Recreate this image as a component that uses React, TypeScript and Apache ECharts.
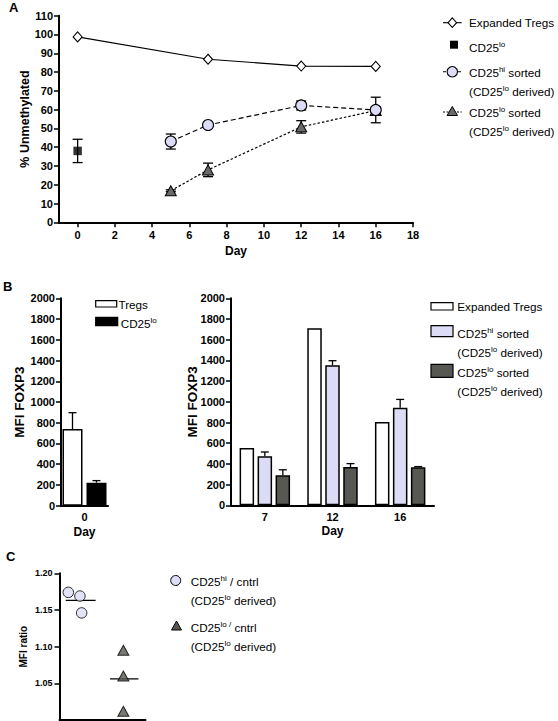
import React, { useEffect, useRef } from 'react';
import * as echarts from 'echarts';

// ---------- Panel A: % unmethylated over days ----------
const aTickDays = [0, 2, 4, 6, 8, 10, 12, 14, 16, 18];
const tregDays = [0, 7, 12, 16];
const tregPct = [98.7, 86.8, 83.2, 83.0];
const cd25loDays = [0];
const cd25loPct = [38];
const cd25loErr = [6.2];
const hiDays = [5, 7, 12, 16];
const hiPct = [43, 51.8, 62.2, 59.8];
const hiErr = [4, 1, 2.4, 6.8];
const loDays = [5, 7, 12, 16];
const loPct = [16.8, 27.9, 50.8, 59.5];
const loErr = [0.5, 3.6, 3.3, 2];

// ---------- Panel B: MFI FOXP3 ----------
const bLeftDays = ['0'];
const bTregs = [740];
const bTregsErr = [157];
const bCd25lo = [222];
const bCd25loErr = [20];
const bRightDays = ['7', '12', '16'];
const bExpanded = [553, 1710, 805];
const bHiSorted = [475, 1352, 943];
const bHiErr = [40, 45, 80];
const bLoSorted = [290, 370, 368];
const bLoErr = [53, 33, 6];

// ---------- Panel C: MFI ratio ----------
const cTickRatios = [1.05, 1.1, 1.15, 1.2];
const cHiX = [0.41, 0.95, 1.03];
const cHiRatio = [1.174, 1.169, 1.146];
const cHiMean = 1.163;
const cHiMeanSpan = [0.29, 1.68];
const cLoX = [2.97, 2.97, 2.97];
const cLoRatio = [1.095, 1.06, 1.012];
const cLoMean = 1.056;
const cLoMeanSpan = [2.35, 3.67];

const FONT = '"Liberation Sans", Arial, Helvetica, sans-serif';
const LAV = '#dcdcf6';
const DARK = '#575851';
const TRI_A = '#6a6a6a';

const zip = (xs: any[], ys: number[]) => xs.map((x, i) => [x, ys[i]]);
const zip3 = (xs: any[], ys: number[], es: number[]) => xs.map((x, i) => [x, ys[i], es[i]]);

const axisLine = { show: true, onZero: false, lineStyle: { color: '#000', width: 2 } };
const tick = (len: number) => ({ show: true, length: len, lineStyle: { color: '#000', width: 1.5 } });
const lbl = (size: number, margin: number) => ({
  color: '#000', fontFamily: FONT, fontWeight: 'bold', fontSize: size, margin,
});
const plain = (v: number) => String(v);
const nameStyle = (size: number) => ({ color: '#000', fontFamily: FONT, fontWeight: 'bold', fontSize: size });

function errorBars(capHalf: number, offsetPx: number, both: boolean) {
  return (_params: any, api: any) => {
    const x = api.value(0);
    const y = api.value(1);
    const e = api.value(2);
    const top = api.coord([x, y + e]);
    const base = both ? api.coord([x, y - e]) : api.coord([x, y]);
    const cx = top[0] + offsetPx;
    const st = { stroke: '#000', lineWidth: 1.3 };
    const children: any[] = [
      { type: 'line', shape: { x1: cx, y1: base[1], x2: cx, y2: top[1] }, style: st },
      { type: 'line', shape: { x1: cx - capHalf, y1: top[1], x2: cx + capHalf, y2: top[1] }, style: st },
    ];
    if (both) {
      children.push({ type: 'line', shape: { x1: cx - capHalf, y1: base[1], x2: cx + capHalf, y2: base[1] }, style: st });
    }
    return { type: 'group', children };
  };
}

const RICH = {
  sup: { fontSize: 8, fontFamily: FONT, verticalAlign: 'top', fill: '#000' },
};

const txt = (x: number, y: number, text: string, size = 11.7, weight = 'normal') => ({
  type: 'text',
  x,
  y,
  style: {
    text,
    fill: '#000',
    fontFamily: FONT,
    fontSize: size,
    fontWeight: weight,
    lineHeight: 14,
    verticalAlign: 'middle',
    align: 'left',
    rich: RICH,
  },
});

const box = (x: number, y: number, w: number, h: number, fill: string) => ({
  type: 'rect',
  shape: { x, y, width: w, height: h },
  style: { fill, stroke: '#000', lineWidth: 1.2 },
});

const hline = (x1: number, x2: number, y: number, dash?: number[]) => ({
  type: 'line',
  shape: { x1, y1: y, x2, y2: y },
  style: { stroke: '#000', lineWidth: 1.1, lineDash: dash },
});

function buildOption(): any {
  const graphic: any[] = [
    // panel letters
    txt(9, 7.5, 'A', 13, 'bold'),
    txt(3, 286.5, 'B', 13, 'bold'),
    txt(6, 556.5, 'C', 13, 'bold'),

    // Panel A legend
    hline(443, 461.7, 22.7),
    {
      type: 'polygon',
      shape: { points: [[452.3, 17.9], [456.6, 22.7], [452.3, 27.5], [448, 22.7]] },
      style: { fill: '#fff', stroke: '#000', lineWidth: 1.1 },
    },
    txt(469, 22.7, 'Expanded Tregs'),
    { type: 'rect', shape: { x: 450, y: 40.7, width: 8, height: 8 }, style: { fill: '#000' } },
    txt(469, 47.5, 'CD25{sup|lo}'),
    hline(443, 461.7, 71.7, [3, 2]),
    { type: 'circle', shape: { cx: 452.3, cy: 71.7, r: 5.2 }, style: { fill: LAV, stroke: '#000', lineWidth: 1.1 } },
    txt(469, 72, 'CD25{sup|hi} sorted'),
    txt(469, 91, '(CD25{sup|lo} derived)'),
    hline(443, 461.7, 112, [2, 1.5]),
    {
      type: 'polygon',
      shape: { points: [[452.3, 106.5], [457.5, 115.5], [447.1, 115.5]] },
      style: { fill: TRI_A, stroke: '#000', lineWidth: 1 },
    },
    txt(469, 112.5, 'CD25{sup|lo} sorted'),
    txt(469, 131, '(CD25{sup|lo} derived)'),

    // Panel B left legend
    box(95.7, 300.7, 21, 6.3, '#fff'),
    txt(118.5, 304.3, 'Tregs'),
    box(95.7, 317.3, 22, 8.4, '#000'),
    txt(120.7, 323.3, 'CD25{sup|lo}'),

    // Panel B right legend
    box(431, 302.7, 22, 7.3, '#fff'),
    txt(457.3, 306.7, 'Expanded Tregs'),
    box(431, 325.7, 22, 11, LAV),
    txt(457.3, 333.3, 'CD25{sup|hi} sorted'),
    txt(457.3, 352.7, '(CD25{sup|lo} derived)'),
    box(431, 364.3, 22, 13, DARK),
    txt(457.3, 372.7, 'CD25{sup|lo} sorted'),
    txt(457.3, 391.7, '(CD25{sup|lo} derived)'),

    // Panel C legend
    { type: 'circle', shape: { cx: 175.7, cy: 580.5, r: 5 }, style: { fill: LAV, stroke: '#000', lineWidth: 1 } },
    txt(190.7, 581.5, 'CD25{sup|hi} / cntrl'),
    txt(190.7, 600, '(CD25{sup|lo} derived)'),
    {
      type: 'polygon',
      shape: { points: [[176.5, 621], [181.5, 630], [171.5, 630]] },
      style: { fill: DARK, stroke: '#000', lineWidth: 1 },
    },
    txt(190.7, 627, 'CD25{sup|lo /} cntrl'),
    txt(190.7, 646, '(CD25{sup|lo} derived)'),
  ];

  return {
    animation: false,
    backgroundColor: '#fff',
    textStyle: { fontFamily: FONT },
    grid: [
      { left: 59, top: 15.7, width: 354, height: 206.6 },
      { left: 61, top: 298.3, width: 47, height: 207.4 },
      { left: 231, top: 298.3, width: 203, height: 207 },
      { left: 59.5, top: 573.3, width: 86, height: 146.7 },
    ],
    xAxis: [
      {
        type: 'value', gridIndex: 0, min: -1, max: 18,
        axisLine, axisTick: { ...tick(5), customValues: aTickDays },
        axisLabel: { ...lbl(11, 7), customValues: aTickDays, formatter: plain },
        splitLine: { show: false },
        name: 'Day', nameLocation: 'middle', nameGap: 23, nameMoveOverlap: false, nameTextStyle: nameStyle(12),
      },
      {
        type: 'category', gridIndex: 1, data: bLeftDays,
        axisLine, axisTick: { show: false }, axisLabel: lbl(11, 6),
        name: 'Day', nameLocation: 'middle', nameGap: 20, nameMoveOverlap: false, nameTextStyle: nameStyle(12),
      },
      {
        type: 'category', gridIndex: 2, data: bRightDays,
        axisLine, axisTick: { show: false }, axisLabel: lbl(11, 6),
        name: 'Day', nameLocation: 'middle', nameGap: 20, nameMoveOverlap: false, nameTextStyle: nameStyle(12),
      },
      {
        type: 'value', gridIndex: 3, min: 0, max: 4,
        axisLine, axisTick: { show: false }, axisLabel: { show: false },
        splitLine: { show: false },
      },
    ],
    yAxis: [
      {
        type: 'value', gridIndex: 0, min: 0, max: 110, interval: 10,
        axisLine, axisTick: tick(5), axisLabel: { ...lbl(11, 6), formatter: plain }, splitLine: { show: false },
        name: '% Unmethylated', nameLocation: 'middle', nameGap: 28, nameMoveOverlap: false,
        nameTextStyle: nameStyle(12.5),
      },
      {
        type: 'value', gridIndex: 1, min: 0, max: 2000, interval: 200,
        axisLine, axisTick: tick(5), axisLabel: { ...lbl(11, 6), formatter: plain }, splitLine: { show: false },
        name: 'MFI FOXP3', nameLocation: 'middle', nameGap: 35, nameMoveOverlap: false,
        nameTextStyle: nameStyle(13.5),
      },
      {
        type: 'value', gridIndex: 2, min: 0, max: 2000, interval: 200,
        axisLine, axisTick: tick(5), axisLabel: { ...lbl(11, 6), formatter: plain }, splitLine: { show: false },
        name: 'MFI FOXP3', nameLocation: 'middle', nameGap: 32, nameMoveOverlap: false,
        nameTextStyle: nameStyle(13.5),
      },
      {
        type: 'value', gridIndex: 3, min: 1.0, max: 1.2,
        axisLine, axisTick: { ...tick(5), customValues: cTickRatios },
        axisLabel: { ...lbl(9, 7), customValues: cTickRatios, formatter: (v: number) => v.toFixed(2) },
        splitLine: { show: false },
        name: 'MFI ratio', nameLocation: 'middle', nameGap: 31, nameMoveOverlap: false,
        nameTextStyle: nameStyle(10),
      },
    ],
    series: [
      // ----- Panel A -----
      {
        name: 'CD25lo err', type: 'custom', xAxisIndex: 0, yAxisIndex: 0,
        data: zip3(cd25loDays, cd25loPct, cd25loErr), encode: { x: 0, y: 1 },
        renderItem: errorBars(5, 0, true), z: 1,
      },
      {
        name: 'hi err', type: 'custom', xAxisIndex: 0, yAxisIndex: 0,
        data: zip3(hiDays, hiPct, hiErr), encode: { x: 0, y: 1 },
        renderItem: errorBars(5, 0, true), z: 1,
      },
      {
        name: 'lo err', type: 'custom', xAxisIndex: 0, yAxisIndex: 0,
        data: zip3(loDays, loPct, loErr), encode: { x: 0, y: 1 },
        renderItem: errorBars(5, 0, true), z: 1,
      },
      {
        name: 'Expanded Tregs', type: 'line', xAxisIndex: 0, yAxisIndex: 0,
        data: zip(tregDays, tregPct), symbol: 'diamond', symbolSize: [9, 10],
        itemStyle: { color: '#fff', borderColor: '#000', borderWidth: 1.1 },
        lineStyle: { color: '#000', width: 1.2 },
      },
      {
        name: 'CD25lo', type: 'scatter', xAxisIndex: 0, yAxisIndex: 0,
        data: zip(cd25loDays, cd25loPct), symbol: 'rect', symbolSize: 8.5,
        itemStyle: { color: '#000' },
      },
      {
        name: 'CD25lo sorted', type: 'line', xAxisIndex: 0, yAxisIndex: 0,
        data: zip(loDays, loPct), symbol: 'triangle', symbolSize: [11, 10],
        itemStyle: { color: TRI_A, borderColor: '#000', borderWidth: 1 },
        lineStyle: { color: '#000', width: 1.2, type: [2.5, 2] },
      },
      {
        name: 'CD25hi sorted', type: 'line', xAxisIndex: 0, yAxisIndex: 0,
        data: zip(hiDays, hiPct), symbol: 'circle', symbolSize: 11,
        itemStyle: { color: LAV, borderColor: '#000', borderWidth: 1.1 },
        lineStyle: { color: '#000', width: 1.2, type: [5, 3] },
      },

      // ----- Panel B left -----
      {
        name: 'Tregs', type: 'bar', xAxisIndex: 1, yAxisIndex: 1, data: bTregs,
        barWidth: 20, barGap: '20%',
        itemStyle: { color: '#fff', borderColor: '#000', borderWidth: 1.5 },
      },
      {
        name: 'CD25lo d0', type: 'bar', xAxisIndex: 1, yAxisIndex: 1, data: bCd25lo,
        barWidth: 20, barGap: '20%',
        itemStyle: { color: '#000', borderColor: '#000', borderWidth: 1.5 },
      },
      {
        name: 'Tregs err', type: 'custom', xAxisIndex: 1, yAxisIndex: 1,
        data: zip3([0], bTregs, bTregsErr), encode: { x: 0, y: 1 },
        renderItem: errorBars(4, -12, false), z: 3,
      },
      {
        name: 'CD25lo d0 err', type: 'custom', xAxisIndex: 1, yAxisIndex: 1,
        data: zip3([0], bCd25lo, bCd25loErr), encode: { x: 0, y: 1 },
        renderItem: errorBars(4, 12, false), z: 3,
      },

      // ----- Panel B right -----
      {
        name: 'Expanded Tregs B', type: 'bar', xAxisIndex: 2, yAxisIndex: 2, data: bExpanded,
        barWidth: 14.5, barGap: '24%',
        itemStyle: { color: '#fff', borderColor: '#000', borderWidth: 1.5 },
      },
      {
        name: 'CD25hi sorted B', type: 'bar', xAxisIndex: 2, yAxisIndex: 2, data: bHiSorted,
        barWidth: 14.5, barGap: '24%',
        itemStyle: { color: LAV, borderColor: '#000', borderWidth: 1.5 },
      },
      {
        name: 'CD25lo sorted B', type: 'bar', xAxisIndex: 2, yAxisIndex: 2, data: bLoSorted,
        barWidth: 14.5, barGap: '24%',
        itemStyle: { color: DARK, borderColor: '#000', borderWidth: 1.5 },
      },
      {
        name: 'hi B err', type: 'custom', xAxisIndex: 2, yAxisIndex: 2,
        data: zip3([0, 1, 2], bHiSorted, bHiErr), encode: { x: 0, y: 1 },
        renderItem: errorBars(4, 0, false), z: 3,
      },
      {
        name: 'lo B err', type: 'custom', xAxisIndex: 2, yAxisIndex: 2,
        data: zip3([0, 1, 2], bLoSorted, bLoErr), encode: { x: 0, y: 1 },
        renderItem: errorBars(4, 18, false), z: 3,
      },

      // ----- Panel C -----
      {
        name: 'hi mean', type: 'line', xAxisIndex: 3, yAxisIndex: 3,
        data: cHiMeanSpan.map((x) => [x, cHiMean]), symbol: 'none',
        lineStyle: { color: '#000', width: 1.2 },
      },
      {
        name: 'lo mean', type: 'line', xAxisIndex: 3, yAxisIndex: 3,
        data: cLoMeanSpan.map((x) => [x, cLoMean]), symbol: 'none',
        lineStyle: { color: '#000', width: 1.2 },
      },
      {
        name: 'CD25hi / cntrl', type: 'scatter', xAxisIndex: 3, yAxisIndex: 3,
        data: zip(cHiX, cHiRatio), symbol: 'circle', symbolSize: 10.5,
        itemStyle: { color: LAV, borderColor: '#000', borderWidth: 1 },
        z: 4,
      },
      {
        name: 'CD25lo / cntrl', type: 'scatter', xAxisIndex: 3, yAxisIndex: 3,
        data: zip(cLoX, cLoRatio), symbol: 'triangle', symbolSize: [11, 10],
        itemStyle: { color: DARK, borderColor: '#000', borderWidth: 1 },
        z: 4,
      },
    ],
    graphic,
  };
}

export default function App() {
  const ref = useRef<HTMLDivElement>(null);
  useEffect(() => {
    if (!ref.current) return;
    const chart = echarts.init(ref.current, null, { renderer: 'svg' });
    chart.setOption(buildOption());
    return () => chart.dispose();
  }, []);
  return (
    <div
      ref={ref}
      style={{ position: 'absolute', left: 0, top: 0, width: 558, height: 721, background: '#fff' }}
    />
  );
}
